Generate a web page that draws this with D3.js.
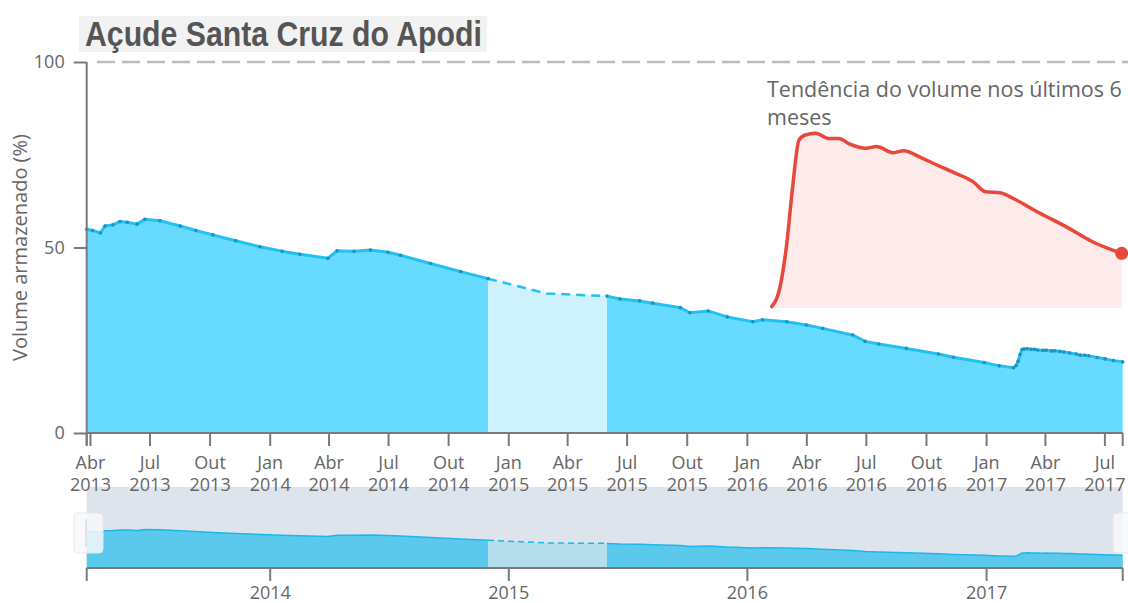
<!DOCTYPE html>
<html>
<head>
<meta charset="utf-8">
<script src="https://cdn.jsdelivr.net/npm/d3@7"></script>
<style>
  html, body { margin: 0; padding: 0; background: #fff; }
  svg { display: block; }
  text { font-family: "Open Sans", "Noto Sans", sans-serif; }
</style>
</head>
<body>
<svg id="chart" width="1128" height="603"></svg>
<script>
// ---------------- DATA ----------------
const chartTitle = "Açude Santa Cruz do Apodi";
const yAxisLabel = "Volume armazenado (%)";
const trendLabel = ["Tendência do volume nos últimos 6", "meses"];
const monthNames = ["Jan","Fev","Mar","Abr","Mai","Jun","Jul","Ago","Set","Out","Nov","Dez"];
const yTicks = [0, 50, 100];
const navYears = ["2014-01-01","2015-01-01","2016-01-01","2017-01-01"];
const domainDates = ["2013-03-27", "2017-07-29"];

// measured volume (%) — first period
const seg1Dates = ["2013-03-27","2013-04-05","2013-04-17","2013-04-24","2013-05-06","2013-05-17","2013-05-28","2013-06-12","2013-06-24","2013-07-17","2013-08-17","2013-09-10","2013-10-06","2013-11-10","2013-12-17","2014-01-20","2014-02-16","2014-03-31","2014-04-14","2014-05-10","2014-06-04","2014-07-01","2014-07-20","2014-09-04","2014-10-20","2014-12-01"];
const seg1Values = [54.9,54.6,53.9,55.8,56.1,57.0,56.8,56.3,57.6,57.2,55.8,54.6,53.4,51.8,50.2,49.0,48.2,47.1,49.1,49.0,49.3,48.7,47.9,45.7,43.5,41.6];

// period without measurements (dashed)
const gapDates = ["2014-12-01","2015-03-01","2015-06-01"];
const gapValues = [41.6,37.6,36.9];

// measured volume (%) — second period
const seg2Dates = ["2015-06-01","2015-06-21","2015-07-21","2015-08-10","2015-09-21","2015-10-06","2015-11-03","2015-12-02","2016-01-10","2016-01-25","2016-03-02","2016-04-01","2016-04-26","2016-06-11","2016-06-30","2016-07-21","2016-09-01","2016-10-20","2016-11-12","2016-12-29","2017-01-21"];
const seg2Values = [36.9,36.1,35.6,35.0,33.8,32.4,32.9,31.3,30.0,30.5,30.0,29.1,28.2,26.4,24.7,24.0,22.8,21.3,20.4,19.0,18.1];

// last months (trend inset, also end of main series)
const trendDates = ["2017-02-12","2017-02-16","2017-02-19","2017-02-22","2017-02-25","2017-02-28","2017-03-05","2017-03-11","2017-03-16","2017-03-21","2017-03-29","2017-04-03","2017-04-11","2017-04-16","2017-04-24","2017-04-30","2017-05-09","2017-05-19","2017-05-25","2017-06-01","2017-06-07","2017-06-20","2017-07-02","2017-07-15","2017-07-29"];
const trendValues = [17.6,18.19,19.36,21.13,22.5,22.65,22.7,22.55,22.55,22.39,22.26,22.31,22.13,22.19,21.99,21.82,21.57,21.28,20.98,20.95,20.79,20.35,19.97,19.51,19.17];

// ---------------- DRAW ----------------
const parse = d3.timeParse("%Y-%m-%d");
const zip = (ds, vs) => ds.map((d, i) => ({date: parse(d), value: vs[i]}));
const seg1 = zip(seg1Dates, seg1Values);
const gap = zip(gapDates, gapValues);
const trend = zip(trendDates, trendValues);
const seg2 = zip(seg2Dates, seg2Values).concat(trend);

const svg = d3.select("#chart");
const X0 = 86.7, X1 = 1122.7;
const x = d3.scaleTime().domain(domainDates.map(parse)).range([X0, X1]);
const y = d3.scaleLinear().domain([0, 100]).range([433, 62]);

const C = {
  fill: "#66daff", gapFill: "#cff3fe", line: "#22c1f2", dot: "#1b93c2",
  axis: "#7a7a7a", text: "#666"
};

// title
svg.append("rect").attr("x", 79).attr("y", 16).attr("width", 408).attr("height", 36).attr("fill", "#f2f2f2");
const title = svg.append("text").attr("x", 0).attr("y", 0)
  .style("font-family", "'Liberation Sans', Arial, sans-serif")
  .style("font-weight", "bold").style("font-size", "35px").attr("fill", "#555")
  .text(chartTitle);
const tw = title.node().getComputedTextLength();
const sx = tw > 0 ? 397 / tw : 1;
title.attr("transform", `translate(85,46) scale(${sx},1)`);

// navigator background (under the main x labels)
svg.append("rect").attr("x", X0).attr("y", 487).attr("width", X1 - X0).attr("height", 81).attr("fill", "#dde4ec");

// gridline at 100
svg.append("line").attr("x1", 97).attr("x2", 1128).attr("y1", y(100)).attr("y2", y(100))
  .attr("stroke", "#bdbdbd").attr("stroke-width", 2.5).attr("stroke-dasharray", "18,7");

// areas
const area = d3.area().x(d => x(d.date)).y0(y(0)).y1(d => y(d.value));
const line = d3.line().x(d => x(d.date)).y(d => y(d.value));
svg.append("path").datum(seg1).attr("d", area).attr("fill", C.fill);
svg.append("path").datum(gap).attr("d", area).attr("fill", C.gapFill);
svg.append("path").datum(seg2).attr("d", area).attr("fill", C.fill);
svg.append("path").datum(seg1).attr("d", line).attr("fill", "none").attr("stroke", C.line).attr("stroke-width", 3);
svg.append("path").datum(gap).attr("d", line).attr("fill", "none").attr("stroke", C.line).attr("stroke-width", 2.5).attr("stroke-dasharray", "9,6");
svg.append("path").datum(seg2).attr("d", line).attr("fill", "none").attr("stroke", C.line).attr("stroke-width", 3);
svg.append("g").selectAll("circle").data(seg1.concat(seg2)).join("circle")
  .attr("cx", d => x(d.date)).attr("cy", d => y(d.value)).attr("r", 1.8).attr("fill", C.dot);

// y axis
const yAxis = svg.append("g").attr("transform", `translate(${X0},0)`)
  .call(d3.axisLeft(y).tickValues(yTicks).tickSize(13).tickPadding(9));
yAxis.select(".domain").attr("stroke", C.axis).attr("stroke-width", 2).attr("d", `M0,${y(100)}V${y(0)+12}`);
yAxis.selectAll(".tick line").attr("stroke", C.axis).attr("stroke-width", 2);
yAxis.selectAll(".tick text").attr("fill", C.text).style("font-size", "18px");
svg.append("text").attr("transform", `translate(27,${y(50)}) rotate(-90)`)
  .attr("text-anchor", "middle").attr("fill", C.text).style("font-size", "20px").text(yAxisLabel);

// x axis
const qTicks = d3.timeMonth.every(3).range(parse("2013-04-01"), parse("2017-07-30"));
const xAxis = svg.append("g").attr("transform", `translate(0,${y(0)})`)
  .call(d3.axisBottom(x).tickValues(qTicks).tickSize(13).tickFormat(""));
xAxis.select(".domain").attr("stroke", C.axis).attr("stroke-width", 2).attr("d", `M${X0},0H${X1}`);
xAxis.selectAll(".tick line").attr("stroke", C.axis).attr("stroke-width", 2);
xAxis.selectAll(".tick").each(function(d) {
  const t = d3.select(this).append("text").attr("fill", C.text).attr("text-anchor", "middle").style("font-size", "18px");
  t.append("tspan").attr("x", 0).attr("y", 36).text(monthNames[d.getMonth()]);
  t.append("tspan").attr("x", 0).attr("y", 58).text(d.getFullYear());
});
[X0, X1].forEach(px => xAxis.append("line").attr("x1", px).attr("x2", px).attr("y1", 0).attr("y2", 13)
  .attr("stroke", C.axis).attr("stroke-width", 2));

// trend inset
const tx = d3.scaleTime().domain(d3.extent(trend, d => d.date)).range([771.7, 1121.7]);
const ty = d3.scaleLinear().domain(d3.extent(trend, d => d.value)).range([306.7, 133.3]);
svg.append("path").datum(trend)
  .attr("d", d3.area().curve(d3.curveMonotoneX).x(d => tx(d.date)).y0(308).y1(d => ty(d.value)))
  .attr("fill", "#fdeaea");
svg.append("path").datum(trend)
  .attr("d", d3.line().curve(d3.curveMonotoneX).x(d => tx(d.date)).y(d => ty(d.value)))
  .attr("fill", "none").attr("stroke", "#e8473b").attr("stroke-width", 3.5).attr("stroke-linecap", "round");
const last = trend[trend.length - 1];
svg.append("circle").attr("cx", tx(last.date)).attr("cy", ty(last.value)).attr("r", 6.5).attr("fill", "#e8473b");
const tl = svg.append("text").attr("fill", C.text).style("font-size", "21.5px");
trendLabel.forEach((s, i) => tl.append("tspan").attr("x", 767).attr("y", 97 + i * 28).text(s));

// navigator
const ny = d3.scaleLinear().domain([0, 100]).range([568, 501.3]);
const nArea = d3.area().x(d => x(d.date)).y0(ny(0)).y1(d => ny(d.value));
const nLine = d3.line().x(d => x(d.date)).y(d => ny(d.value));
svg.append("path").datum(seg1).attr("d", nArea).attr("fill", "#5bc9eb");
svg.append("path").datum(gap).attr("d", nArea).attr("fill", "#b4deec");
svg.append("path").datum(seg2).attr("d", nArea).attr("fill", "#5bc9eb");
svg.append("path").datum(seg1).attr("d", nLine).attr("fill", "none").attr("stroke", "#1ab8ea").attr("stroke-width", 1.5);
svg.append("path").datum(gap).attr("d", nLine).attr("fill", "none").attr("stroke", "#1ab8ea").attr("stroke-width", 1.5).attr("stroke-dasharray", "6,4");
svg.append("path").datum(seg2).attr("d", nLine).attr("fill", "none").attr("stroke", "#1ab8ea").attr("stroke-width", 1.5);

const nAxis = svg.append("g").attr("transform", "translate(0,568)")
  .call(d3.axisBottom(x).tickValues(navYears.map(parse)).tickSize(13).tickPadding(5).tickFormat(d3.timeFormat("%Y")));
nAxis.select(".domain").attr("stroke", C.axis).attr("stroke-width", 2).attr("d", `M${X0},0H${X1}`);
nAxis.selectAll(".tick line").attr("stroke", C.axis).attr("stroke-width", 2);
nAxis.selectAll(".tick text").attr("fill", C.text).style("font-size", "18px");
[X0, X1].forEach(px => nAxis.append("line").attr("x1", px).attr("x2", px).attr("y1", 0).attr("y2", 13)
  .attr("stroke", C.axis).attr("stroke-width", 2));

// navigator handles
[[74, 29], [1113, 30]].forEach(([hx, hw]) => {
  svg.append("rect").attr("x", hx).attr("y", 513).attr("width", hw).attr("height", 40).attr("rx", 4)
    .attr("fill", "#f7f8fa").attr("fill-opacity", 0.85).attr("stroke", "#e3e7ec");
});
svg.append("line").attr("x1", 86).attr("x2", 86).attr("y1", 519).attr("y2", 547).attr("stroke", "#e0e3e8").attr("stroke-width", 2);
</script>
</body>
</html>
